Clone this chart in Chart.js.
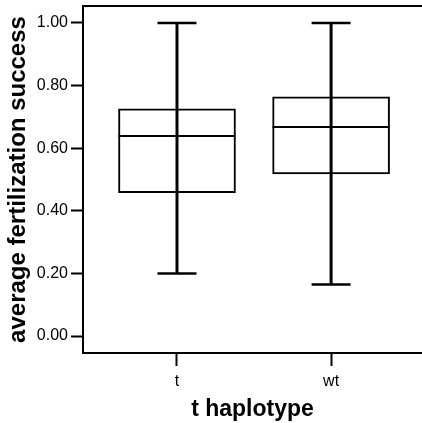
<!DOCTYPE html>
<html lang="en">
<head>
    <meta charset="UTF-8">
    <title>Average fertilization success by t haplotype</title>
    <style>
        body { margin: 0; background: #fff; }
        canvas { display: block; }
    </style>
    <script src="https://cdn.jsdelivr.net/npm/chart.js"></script>
</head>
<body>
    <canvas id="boxChart" width="422" height="423"></canvas>

    <script>
        // Data
        const groups = ['t', 'wt'];
        const whiskerLow = [0.200, 0.165];
        const q1 = [0.458, 0.518];
        const median = [0.639, 0.668];
        const q3 = [0.726, 0.764];
        const whiskerHigh = [1.00, 1.00];
        const yTicks = [0, 0.2, 0.4, 0.6, 0.8, 1.0];

        const FONT = '"Liberation Sans", Arial, sans-serif';

        // whiskers, caps and medians drawn through the chart scales
        const boxExtras = {
            id: 'boxExtras',
            afterDatasetsDraw(chart) {
                const { ctx, scales: { x, y } } = chart;
                const meta = chart.getDatasetMeta(0);
                ctx.save();
                ctx.strokeStyle = '#000';
                groups.forEach((g, i) => {
                    const px = x.getPixelForValue(i);
                    const bar = meta.data[i];
                    const half = bar.width / 2;
                    // vertical whisker line
                    ctx.lineWidth = 3;
                    ctx.beginPath();
                    ctx.moveTo(px, y.getPixelForValue(whiskerLow[i]));
                    ctx.lineTo(px, y.getPixelForValue(whiskerHigh[i]));
                    ctx.stroke();
                    // caps
                    ctx.lineWidth = 2.5;
                    [whiskerLow[i], whiskerHigh[i]].forEach(v => {
                        const py = y.getPixelForValue(v);
                        ctx.beginPath();
                        ctx.moveTo(px - 19.5, py);
                        ctx.lineTo(px + 19.5, py);
                        ctx.stroke();
                    });
                    // median
                    ctx.lineWidth = 2;
                    const my = y.getPixelForValue(median[i]);
                    ctx.beginPath();
                    ctx.moveTo(px - half, my);
                    ctx.lineTo(px + half, my);
                    ctx.stroke();
                });
                // top frame line
                const area = chart.chartArea;
                ctx.lineWidth = 2;
                ctx.beginPath();
                ctx.moveTo(area.left - 1, area.top);
                ctx.lineTo(area.right, area.top);
                ctx.stroke();
                ctx.restore();
            }
        };

        const ctx = document.getElementById('boxChart').getContext('2d');
        new Chart(ctx, {
            type: 'bar',
            data: {
                datasets: [{
                    data: groups.map((g, i) => ({ x: i, y: [q1[i], q3[i]] })),
                    backgroundColor: '#fff',
                    borderColor: '#000',
                    borderWidth: 2,
                    borderSkipped: false,
                    barThickness: 117
                }]
            },
            options: {
                responsive: false,
                devicePixelRatio: 1,
                animation: false,
                layout: { padding: { top: 6, right: 0, left: 0, bottom: 0 } },
                plugins: { legend: { display: false }, tooltip: { enabled: false } },
                scales: {
                    x: {
                        type: 'linear',
                        min: -0.61,
                        max: 1.59,
                        offset: false,
                        afterBuildTicks: scale => {
                            scale.ticks = groups.map((g, i) => ({ value: i }));
                        },
                        afterFit: scale => {
                            scale.height = 70;
                            scale.paddingLeft = 0;
                            scale.paddingRight = 0;
                        },
                        ticks: {
                            callback: v => groups[v],
                            color: '#000',
                            padding: 6,
                            maxRotation: 0,
                            font: { family: FONT, size: 16 }
                        },
                        grid: {
                            offset: false,
                            drawOnChartArea: false,
                            drawTicks: true,
                            tickLength: 13,
                            tickWidth: 2,
                            tickColor: '#000'
                        },
                        border: { color: '#000', width: 2 },
                        title: {
                            display: true,
                            text: 't haplotype',
                            color: '#000',
                            padding: { top: 0, bottom: 0 },
                            font: { family: FONT, size: 23, weight: 'bold' }
                        }
                    },
                    y: {
                        min: -0.054,
                        max: 1.054,
                        afterBuildTicks: scale => {
                            scale.ticks = yTicks.map(v => ({ value: v }));
                        },
                        afterFit: scale => {
                            scale.width = 83;
                            scale.paddingTop = 0;
                            scale.paddingBottom = 0;
                        },
                        ticks: {
                            callback: v => v.toFixed(2),
                            color: '#000',
                            padding: 3,
                            font: { family: FONT, size: 16 }
                        },
                        grid: {
                            drawOnChartArea: false,
                            drawTicks: true,
                            tickLength: 12,
                            tickWidth: 2,
                            tickColor: '#000'
                        },
                        border: { color: '#000', width: 2 },
                        title: {
                            display: true,
                            text: 'average fertilization success',
                            color: '#000',
                            padding: { top: 4, bottom: 0 },
                            font: { family: FONT, size: 24, weight: 'bold' }
                        }
                    }
                }
            },
            plugins: [boxExtras]
        });
    </script>
</body>
</html>
